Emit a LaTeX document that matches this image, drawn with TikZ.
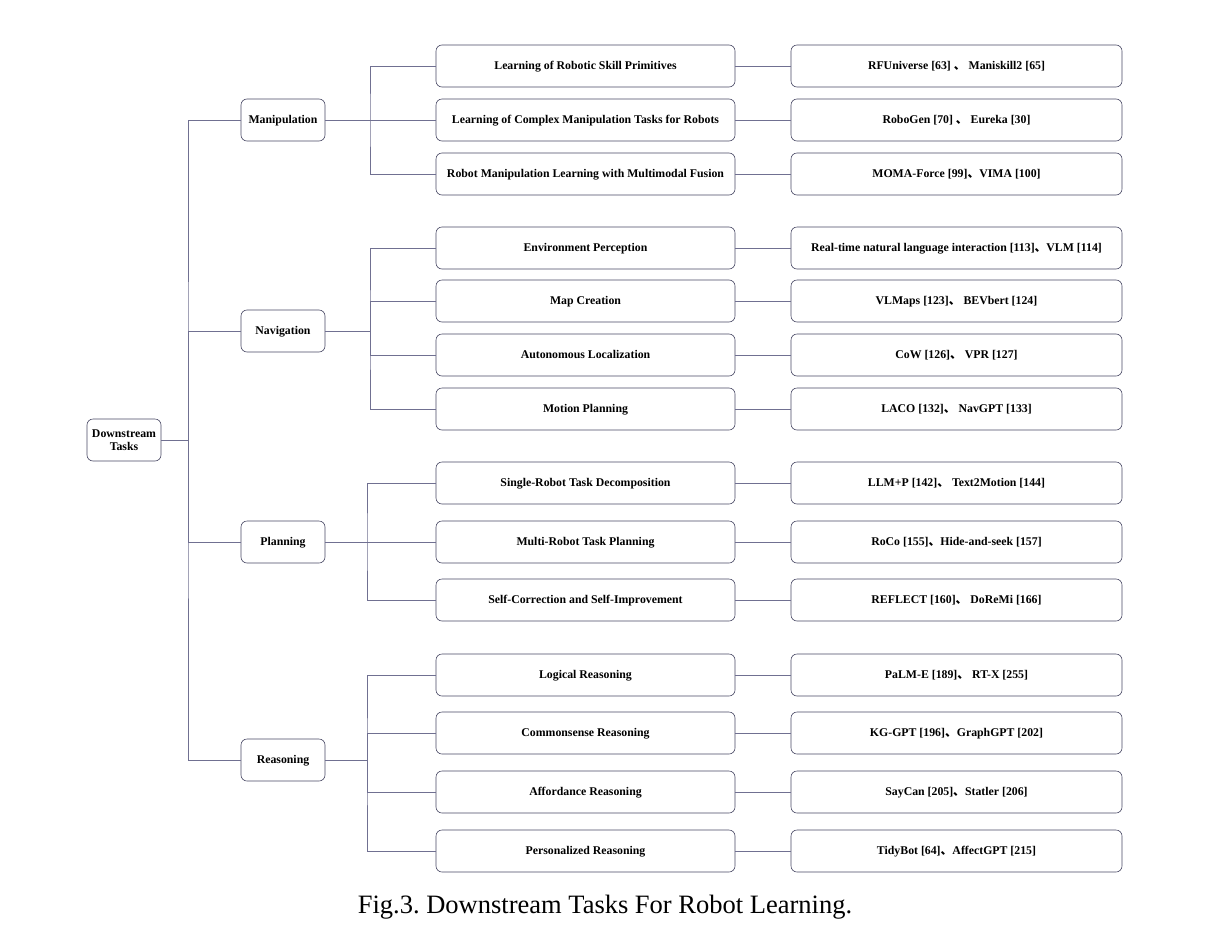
\documentclass[tikz,border=0pt]{standalone}
\usepackage{fontspec}
\setmainfont{Liberation Serif}
\newfontfamily\cjkfont{Noto Sans CJK SC}
\newcommand*{\dun}{{\cjkfont 、}}
\frenchspacing
\definecolor{framecol}{RGB}{72,72,100}
\definecolor{linecol}{RGB}{112,112,145}
\tikzset{
  box/.style={draw=framecol,rounded corners=6pt,minimum height=42pt,inner sep=2pt,
    align=center,font=\fontsize{11.8}{13.5}\selectfont\bfseries,line width=0.6pt},
  rootbox/.style={box,minimum width=74pt},
  topic/.style={box,minimum width=84pt},
  sub/.style={box,minimum width=299pt,text height=8pt,text depth=2pt},
  leaf/.style={box,minimum width=331pt,text height=8pt,text depth=2pt},
  link/.style={draw=linecol,line width=0.6pt}
}
\begin{document}
\begin{tikzpicture}[x=1pt,y=-1pt]
  \useasboundingbox (0,0) rectangle (1210,929);
  % root and first level
  \node[rootbox] (root) at (124,440) {Downstream\\Tasks};
  \node[topic,text height=8pt,text depth=2pt] (man) at (283,120) {Manipulation};
  \node[topic,text height=8pt,text depth=2pt] (nav) at (283,331) {Navigation};
  \node[topic,text height=8pt,text depth=2pt] (pla) at (283,542) {Planning};
  \node[topic,text height=8pt,text depth=2pt] (rea) at (283,760) {Reasoning};
  \coordinate (hub) at (188,440);
  \draw[link] (root) -- (hub);
  \draw[link] (man.west) -| (hub) |- (rea.west);
  \draw[link] (nav.west) -| (hub);
  \draw[link] (pla.west) -| (hub);

  % manipulation
  \node[sub] (m1) at (585.5,66) {Learning of Robotic Skill Primitives};
  \node[sub] (m2) at (585.5,120) {Learning of Complex Manipulation Tasks for Robots};
  \node[sub] (m3) at (585.5,174) {Robot Manipulation Learning with Multimodal Fusion};
  \node[leaf] (m1r) at (956.5,66) {RFUniverse [63] \dun\ Maniskill2 [65]};
  \node[leaf] (m2r) at (956.5,120) {RoboGen [70] \dun\ Eureka [30]};
  \node[leaf] (m3r) at (956.5,174) {MOMA-Force [99]\dun VIMA [100]};
  \coordinate (manhub) at (370,120);
  \draw[link] (man) -- (manhub);
  \draw[link] (m1.west) -| (manhub) |- (m3.west);
  \draw[link] (m2.west) -- (manhub);

  % navigation
  \node[sub] (n1) at (585.5,248) {Environment Perception};
  \node[sub] (n2) at (585.5,301) {Map Creation};
  \node[sub] (n3) at (585.5,355) {Autonomous Localization};
  \node[sub] (n4) at (585.5,409) {Motion Planning};
  \node[leaf] (n1r) at (956.5,248) {Real-time natural language interaction [113]\dun VLM [114]};
  \node[leaf] (n2r) at (956.5,301) {VLMaps [123]\dun\ BEVbert [124]};
  \node[leaf] (n3r) at (956.5,355) {CoW [126]\dun\ VPR [127]};
  \node[leaf] (n4r) at (956.5,409) {LACO [132]\dun\ NavGPT [133]};
  \coordinate (navhub) at (370,331);
  \draw[link] (nav) -- (navhub);
  \draw[link] (n1.west) -| (navhub) |- (n4.west);
  \draw[link] (n2.west) -| (navhub);
  \draw[link] (n3.west) -| (navhub);

  % planning
  \node[sub] (p1) at (585.5,483) {Single-Robot Task Decomposition};
  \node[sub] (p2) at (585.5,542) {Multi-Robot Task Planning};
  \node[sub] (p3) at (585.5,600) {Self-Correction and Self-Improvement};
  \node[leaf] (p1r) at (956.5,483) {LLM+P [142]\dun\ Text2Motion [144]};
  \node[leaf] (p2r) at (956.5,542) {RoCo [155]\dun Hide-and-seek [157]};
  \node[leaf] (p3r) at (956.5,600) {REFLECT [160]\dun\ DoReMi [166]};
  \coordinate (plahub) at (367,542);
  \draw[link] (pla) -- (plahub);
  \draw[link] (p1.west) -| (plahub) |- (p3.west);
  \draw[link] (p2.west) -- (plahub);

  % reasoning
  \node[sub] (r1) at (585.5,675) {Logical Reasoning};
  \node[sub] (r2) at (585.5,733) {Commonsense Reasoning};
  \node[sub] (r3) at (585.5,792) {Affordance Reasoning};
  \node[sub] (r4) at (585.5,851) {Personalized Reasoning};
  \node[leaf] (r1r) at (956.5,675) {PaLM-E [189]\dun\ RT-X [255]};
  \node[leaf] (r2r) at (956.5,733) {KG-GPT [196]\dun GraphGPT [202]};
  \node[leaf] (r3r) at (956.5,792) {SayCan [205]\dun Statler [206]};
  \node[leaf] (r4r) at (956.5,851) {TidyBot [64]\dun AffectGPT [215]};
  \coordinate (reahub) at (367,760);
  \draw[link] (rea) -- (reahub);
  \draw[link] (r1.west) -| (reahub) |- (r4.west);
  \draw[link] (r2.west) -| (reahub);
  \draw[link] (r3.west) -| (reahub);

  % second to third level
  \path[link]
    (m1) edge (m1r) (m2) edge (m2r) (m3) edge (m3r)
    (n1) edge (n1r) (n2) edge (n2r) (n3) edge (n3r) (n4) edge (n4r)
    (p1) edge (p1r) (p2) edge (p2r) (p3) edge (p3r)
    (r1) edge (r1r) (r2) edge (r2r) (r3) edge (r3r) (r4) edge (r4r);

  \node[font=\fontsize{26.5}{30}\selectfont] (caption) at (605,907) {Fig.3. Downstream Tasks For Robot Learning.};
\end{tikzpicture}
\end{document}
